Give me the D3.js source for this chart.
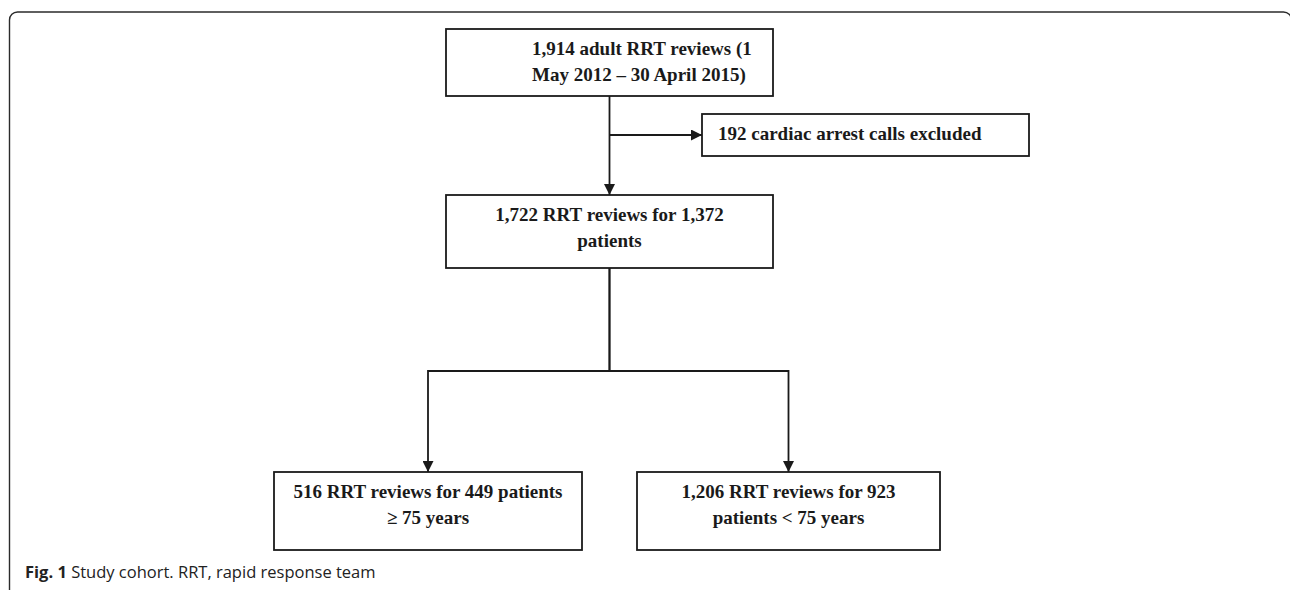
<!DOCTYPE html>
<html>
<head>
<meta charset="utf-8">
<script src="https://cdn.jsdelivr.net/npm/d3@7"></script>
<style>
  html, body { margin: 0; padding: 0; background: #fff; }
  svg { display: block; }
</style>
</head>
<body>
<svg id="chart" width="1290" height="590"></svg>
<script>
// flowchart content
var node_ids = ["all", "excluded", "cohort", "older", "younger"];
var node_lines = [
  ["1,914 adult RRT reviews (1", "May 2012 \u2013 30 April 2015)"],
  ["192 cardiac arrest calls excluded"],
  ["1,722 RRT reviews for 1,372", "patients"],
  ["516 RRT reviews for 449 patients", "\u2265 75 years"],
  ["1,206 RRT reviews for 923", "patients < 75 years"]
];
var links_from = ["all", "all", "cohort", "cohort"];
var links_to = ["excluded", "cohort", "older", "younger"];
var caption_bold = "Fig. 1";
var caption_text = " Study cohort. RRT, rapid response team";

// layout (pixels), kept apart from the content
var layout = {
  all:      {x: 446, y: 29,  w: 327, h: 67, anchor: "start", tx: 532},
  excluded: {x: 702, y: 114, w: 327, h: 42, anchor: "start", tx: 718},
  cohort:   {x: 446, y: 195, w: 327, h: 73},
  older:    {x: 274, y: 472, w: 308, h: 78},
  younger:  {x: 637, y: 472, w: 303, h: 78}
};
var split_y = 371;   // where the cohort line branches
var side_y = 135;    // where the exclusion arrow leaves

var svg = d3.select("#chart");
var ink = "#1a1a1a";

// outer frame with rounded corners
svg.append("rect")
  .attr("x", 9.5).attr("y", 12)
  .attr("width", 1282).attr("height", 700)
  .attr("rx", 8).attr("ry", 8)
  .attr("fill", "none")
  .attr("stroke", "#2b2b2b")
  .attr("stroke-width", 1.4);

svg.append("defs").append("marker")
  .attr("id", "head")
  .attr("viewBox", "0 0 10 10")
  .attr("refX", 10).attr("refY", 5)
  .attr("markerWidth", 11).attr("markerHeight", 11)
  .attr("markerUnits", "userSpaceOnUse")
  .attr("orient", "auto")
  .append("path")
  .attr("d", "M0,0 L10,5 L0,10 Z")
  .attr("fill", ink);

var nodes = node_ids.map(function(id, i){
  var l = layout[id];
  return {id: id, lines: node_lines[i], x: l.x, y: l.y, w: l.w, h: l.h,
          anchor: l.anchor || "middle", tx: l.tx !== undefined ? l.tx : l.x + l.w / 2};
});
var by_id = {};
nodes.forEach(function(n){ by_id[n.id] = n; });

// connectors
var line = d3.line();
links_from.forEach(function(f, i){
  var a = by_id[f], b = by_id[links_to[i]];
  var ax = a.x + a.w / 2, ay = a.y + a.h;
  var pts;
  if (b.id == "excluded") {
    pts = [[ax, side_y], [b.x, side_y]];
  } else if (b.id == "cohort") {
    pts = [[ax, ay], [ax, b.y]];
  } else {
    var bx = b.x + b.w / 2;
    pts = [[ax, ay], [ax, split_y], [bx, split_y], [bx, b.y]];
  }
  svg.append("path")
    .attr("d", line(pts))
    .attr("fill", "none")
    .attr("stroke", ink)
    .attr("stroke-width", 1.8)
    .attr("marker-end", "url(#head)");
});

// boxes
var g = svg.selectAll("g.node").data(nodes).enter().append("g").attr("class", "node");
g.append("rect")
  .attr("x", function(d){ return d.x; })
  .attr("y", function(d){ return d.y; })
  .attr("width", function(d){ return d.w; })
  .attr("height", function(d){ return d.h; })
  .attr("fill", "#fff")
  .attr("stroke", ink)
  .attr("stroke-width", 1.8);
g.each(function(d){
  var t = d3.select(this).append("text")
    .attr("font-family", "'Liberation Serif', 'Times New Roman', serif")
    .attr("font-weight", "bold")
    .attr("font-size", 19)
    .attr("fill", ink)
    .attr("text-anchor", d.anchor);
  d.lines.forEach(function(s, k){
    t.append("tspan").attr("x", d.tx).attr("y", d.y + 26 + k * 25.5).text(s);
  });
});

// caption
var cap = svg.append("text")
  .attr("x", 25).attr("y", 578)
  .attr("font-family", "'Open Sans', sans-serif")
  .attr("font-size", 16.5)
  .attr("fill", "#222");
cap.append("tspan").attr("font-weight", "bold").text(caption_bold);
cap.append("tspan").text(caption_text);
</script>
</body>
</html>
